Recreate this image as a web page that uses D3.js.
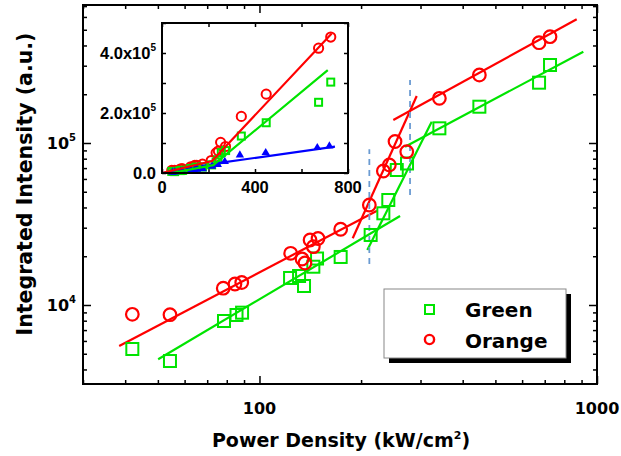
<!DOCTYPE html>
<html><head><meta charset="utf-8">
<script src="https://cdn.jsdelivr.net/npm/d3@7"></script>
<style>
body{margin:0;background:#fff}
text{font-family:"DejaVu Sans",sans-serif;font-weight:bold;fill:#000}
text.ar{font-family:"Liberation Sans",Arial,sans-serif}
</style>
</head><body>
<svg id="c" width="621" height="456"></svg>
<script>
// ---------- data ----------
const orangeX = [42.0, 54.3, 78.1, 84.6, 88.6, 123.7, 133.7, 136.4, 141.2, 144.4, 149.1, 174.0, 211.6, 232.8, 242.5, 252.1, 273.1, 341.2, 448.2, 673.5, 725.8];
const orangeY = [8760, 8710, 12700, 13480, 13770, 20850, 19230, 18170, 25190, 22910, 25730, 29340, 41430, 67180, 73130, 102160, 88360, 188700, 262900, 416000, 453200];
const greenX  = [42.0, 54.3, 78.5, 85.5, 88.8, 123.2, 131.0, 135.5, 144.4, 148.1, 174.0, 213.5, 232.8, 240.8, 255.1, 273.6, 341.2, 448.2, 673.5, 725.8];
const greenY  = [5350, 4510, 7965, 8675, 8966, 14680, 15100, 13100, 17230, 19360, 19790, 27050, 36810, 44470, 68130, 74730, 123200, 167500, 235700, 303000];
const blueX   = [45, 55, 80, 88, 125, 140, 150, 175, 215, 240, 270, 335, 446, 668, 720];
const blueY   = [2500, 3000, 5000, 6000, 9000, 10000, 12000, 14000, 22000, 28000, 38000, 60000, 67700, 84300, 90000];

// fitted line segments [x, y] in data units (main log-log plot)
const orangeFits = [[[38.4,5583],[223,38210]], [[188.9,25800],[292.3,195100]], [[249.2,138700],[870.6,580100]]];
const greenFits  = [[[50.1,4622],[260.9,35430]], [[208.7,21860],[323.8,135300]], [[270,94870],[911,365900]]];
// vertical dashed markers: [x, yLow, yHigh]
const dashMarks = [[211.6, 17910, 91450], [279.3, 47750, 244800]];

// inset fits (linear)
const insetOrangeFit = [[0,0],[215,40000],[730,465000]];
const insetGreenFit  = [[40,0],[220,26000],[713,343000]];
const insetBlueDash  = [[0,0],[240,33000]];
const insetBlueFit   = [[240,33000],[744,87700]];

const xMajor = [100, 1000];
const xMajorLabels = ["100", "1000"];
const yMajor = [1e4, 1e5];
const yMajorExp = ["4", "5"];
const insetXTicks = [0, 400, 800];
const insetXLabels = ["0", "400", "800"];
const insetYTicks = [0, 2e5, 4e5];
const insetYLabels = [["0.0",""], ["2.0x10","5"], ["4.0x10","5"]];
const legendNames = ["Green", "Orange"];

// ---------- drawing ----------
const svg = d3.select("#c");
const GREEN = "#00e400", RED = "#ff0000", BLUE = "#0000ff";
const L = 83, R = 597, T = 5, B = 384;
const x = d3.scaleLog().domain([30, 1000]).range([L, R]);
const y = d3.scaleLog().domain([3253, 711000]).range([B, T]);

function ticksOn(g, axisFn, scale, vals, len, tr) {
  g.append("g").attr("transform", tr)
    .call(axisFn(scale).tickValues(vals).tickSize(-len).tickFormat(""))
    .call(s => { s.select(".domain").remove(); s.selectAll("line").attr("stroke","#000").attr("stroke-width",1.5); });
}
const xAll = x.ticks().filter(v => v >= 30 && v <= 1000);
const xMin = xAll.filter(v => !xMajor.includes(v));
const yAll = y.ticks().filter(v => v >= 3253 && v <= 711000);
const yMin = yAll.filter(v => !yMajor.includes(v));
const ax = svg.append("g");
ticksOn(ax, d3.axisBottom, x, xMin, 4, `translate(0,${B})`);
ticksOn(ax, d3.axisBottom, x, xMajor, 8, `translate(0,${B})`);
ticksOn(ax, d3.axisTop, x, xMin, 4, `translate(0,${T})`);
ticksOn(ax, d3.axisTop, x, xMajor, 8, `translate(0,${T})`);
ticksOn(ax, d3.axisLeft, y, yMin, 4, `translate(${L},0)`);
ticksOn(ax, d3.axisLeft, y, yMajor, 8, `translate(${L},0)`);
ticksOn(ax, d3.axisRight, y, yMin, 4, `translate(${R},0)`);
ticksOn(ax, d3.axisRight, y, yMajor, 8, `translate(${R},0)`);

// tick labels
xMajor.forEach((v,i) => {
  svg.append("text").attr("x", x(v)).attr("y", 414).attr("text-anchor","middle")
    .attr("font-size", 16).text(xMajorLabels[i]);
});
yMajor.forEach((v,i) => {
  const t = svg.append("text").attr("x", 76).attr("y", y(v)+6).attr("text-anchor","end").attr("font-size",16);
  t.append("tspan").text("10");
  t.append("tspan").attr("dy",-8).attr("font-size",10).text(yMajorExp[i]);
});

// axis titles
const xt = svg.append("text").attr("x", 341).attr("y", 447).attr("text-anchor","middle").attr("font-size",19);
xt.append("tspan").text("Power Density (kW/cm");
xt.append("tspan").attr("dy",-8).attr("font-size",11).text("2");
xt.append("tspan").attr("dy",8).text(")");
svg.append("text").attr("transform","translate(32,184) rotate(-90)").attr("text-anchor","middle")
  .attr("font-size",20.5).text("Integrated Intensity (a.u.)");

// fit lines
const line = d3.line().x(d => x(d[0])).y(d => y(d[1]));
const plot = svg.append("g");
orangeFits.forEach(s => plot.append("path").attr("d", line(s)).attr("stroke", RED).attr("stroke-width",2.2).attr("fill","none"));
greenFits.forEach(s => plot.append("path").attr("d", line(s)).attr("stroke", GREEN).attr("stroke-width",2.2).attr("fill","none"));
dashMarks.forEach(d => plot.append("line").attr("x1", x(d[0])).attr("x2", x(d[0]))
  .attr("y1", y(d[1])).attr("y2", y(d[2])).attr("stroke","#6b9bd2").attr("stroke-width",1.8).attr("stroke-dasharray","6,5"));

// markers
const S = 12;
plot.selectAll(".gs").data(greenX.map((v,i)=>[v,greenY[i]])).join("rect")
  .attr("x", d => x(d[0])-S/2).attr("y", d => y(d[1])-S/2).attr("width",S).attr("height",S)
  .attr("fill","none").attr("stroke",GREEN).attr("stroke-width",2);
plot.selectAll(".oc").data(orangeX.map((v,i)=>[v,orangeY[i]])).join("circle")
  .attr("cx", d => x(d[0])).attr("cy", d => y(d[1])).attr("r",6.3)
  .attr("fill","none").attr("stroke",RED).attr("stroke-width",2.2);

// frame
svg.append("rect").attr("x",L).attr("y",T).attr("width",R-L).attr("height",B-T)
  .attr("fill","none").attr("stroke","#000").attr("stroke-width",2);

// legend
const lg = svg.append("g");
lg.append("rect").attr("x",389).attr("y",294).attr("width",182).attr("height",69).attr("fill","#000");
lg.append("rect").attr("x",384).attr("y",289).attr("width",182).attr("height",69).attr("fill","#fff").attr("stroke","#888").attr("stroke-width",1);
lg.append("rect").attr("x",425).attr("y",305).attr("width",9).attr("height",9).attr("fill","none").attr("stroke",GREEN).attr("stroke-width",2);
lg.append("circle").attr("cx",429.5).attr("cy",339.5).attr("r",4.6).attr("fill","none").attr("stroke",RED).attr("stroke-width",2.4);
lg.append("text").attr("x",465).attr("y",317).attr("font-size",20).text(legendNames[0]);
lg.append("text").attr("x",465).attr("y",348).attr("font-size",20).text(legendNames[1]);

// ---------- inset ----------
const IL = 162, IR = 348, IT = 23, IB = 173;
const xi = d3.scaleLinear().domain([0,800]).range([IL, IR]);
const yi = d3.scaleLinear().domain([0,5e5]).range([IB, IT]);
const ins = svg.append("g");
ins.append("rect").attr("x",IL).attr("y",IT).attr("width",IR-IL).attr("height",IB-IT).attr("fill","#fff");
const xiT = d3.range(0, 801, 200), yiT = d3.range(0, 500001, 100000);
ticksOn(ins, d3.axisBottom, xi, xiT, 4, `translate(0,${IB})`);
ticksOn(ins, d3.axisTop, xi, xiT, 4, `translate(0,${IT})`);
ticksOn(ins, d3.axisLeft, yi, yiT, 4, `translate(${IL},0)`);
ticksOn(ins, d3.axisRight, yi, yiT, 4, `translate(${IR},0)`);
insetXTicks.forEach((v,i) => ins.append("text").attr("class","ar").attr("x", xi(v)).attr("y", 193).attr("text-anchor","middle").attr("font-size",16.5).text(insetXLabels[i]));
insetYTicks.forEach((v,i) => {
  const t = ins.append("text").attr("class","ar").attr("x", 156).attr("y", yi(v)+6).attr("text-anchor","end").attr("font-size",16.5);
  t.append("tspan").text(insetYLabels[i][0]);
  if (insetYLabels[i][1]) t.append("tspan").attr("dy",-8).attr("font-size",10).text(insetYLabels[i][1]);
});
const iline = d3.line().x(d => xi(d[0])).y(d => yi(d[1]));
ins.selectAll(".ic").data(orangeX.map((v,i)=>[v,orangeY[i]])).join("circle")
  .attr("cx", d => xi(d[0])).attr("cy", d => yi(d[1])).attr("r",4.6)
  .attr("fill","none").attr("stroke",RED).attr("stroke-width",2);
ins.selectAll(".ig").data(greenX.map((v,i)=>[v,greenY[i]])).join("rect")
  .attr("x", d => xi(d[0])-3.5).attr("y", d => yi(d[1])-3.5).attr("width",7).attr("height",7)
  .attr("fill","none").attr("stroke",GREEN).attr("stroke-width",2);
ins.selectAll(".ib").data(blueX.map((v,i)=>[v,blueY[i]])).join("path")
  .attr("d", d3.symbol().type(d3.symbolTriangle).size(30))
  .attr("transform", d => `translate(${xi(d[0])},${yi(d[1])})`).attr("fill",BLUE);
ins.append("path").attr("d", iline(insetBlueDash)).attr("stroke",BLUE).attr("stroke-width",2).attr("fill","none").attr("stroke-dasharray","5,3");
ins.append("path").attr("d", iline(insetBlueFit)).attr("stroke",BLUE).attr("stroke-width",2.2).attr("fill","none");
ins.append("path").attr("d", iline(insetGreenFit)).attr("stroke",GREEN).attr("stroke-width",2.2).attr("fill","none");
ins.append("path").attr("d", iline(insetOrangeFit)).attr("stroke",RED).attr("stroke-width",2.2).attr("fill","none");
ins.append("rect").attr("x",IL).attr("y",IT).attr("width",IR-IL).attr("height",IB-IT)
  .attr("fill","none").attr("stroke","#000").attr("stroke-width",2);
</script>
</body></html>
